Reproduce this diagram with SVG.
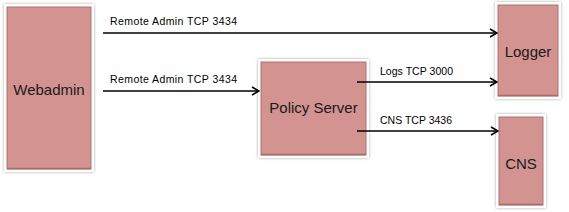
<svg xmlns="http://www.w3.org/2000/svg" width="569" height="212" viewBox="0 0 569 212">
<style>
.frame{fill:#ffffff;filter:url(#sh)}
.box{fill:#d39391;stroke:#b07070;stroke-width:1}
.edge{fill:none;stroke:#a86a6a;stroke-width:1.5}
.nt{font-family:"Liberation Sans",Arial,sans-serif;font-size:15px;fill:#1a1a1a;text-anchor:middle}
.lt{font-family:"Liberation Sans",Arial,sans-serif;font-size:10.5px;fill:#000000}
.ln{fill:none;stroke:#000000;stroke-width:1.6;marker-end:url(#ah)}
</style>
<defs>
<filter id="sh" x="-20%" y="-20%" width="140%" height="140%">
<feGaussianBlur in="SourceAlpha" stdDeviation="1.5"/>
<feOffset dx="0" dy="0" result="b"/>
<feComponentTransfer><feFuncA type="linear" slope="0.35"/></feComponentTransfer>
<feMerge><feMergeNode/><feMergeNode in="SourceGraphic"/></feMerge>
</filter>
<marker id="ah" viewBox="0 0 10 10" refX="9" refY="5" markerWidth="10" markerHeight="10" markerUnits="userSpaceOnUse" orient="auto">
<path d="M2,1 L9,5 L2,9" fill="none" stroke="#000000" stroke-width="1.6"/>
</marker>
</defs>
<rect width="569" height="212" fill="#ffffff"/>
<g id="webadmin">
<rect class="frame" x="4" y="4" width="90" height="168"/>
<rect class="box" x="7" y="7" width="84" height="162"/>
<path class="edge" d="M7,168.5 H91"/>
<text class="nt" x="49" y="95">Webadmin</text>
</g>
<g id="policy-server">
<rect class="frame" x="258" y="59" width="111" height="99"/>
<rect class="box" x="261" y="62" width="105" height="93"/>
<path class="edge" d="M261,154.5 H366"/>
<text class="nt" x="313.5" y="113">Policy Server</text>
</g>
<g id="logger">
<rect class="frame" x="495" y="2" width="66" height="97"/>
<rect class="box" x="498" y="5" width="60" height="91"/>
<path class="edge" d="M498,95.5 H558"/>
<text class="nt" x="528" y="57">Logger</text>
</g>
<g id="cns">
<rect class="frame" x="496" y="114" width="50" height="94"/>
<rect class="box" x="499" y="117" width="44" height="88"/>
<path class="edge" d="M499,204.5 H543"/>
<text class="nt" x="521" y="169">CNS</text>
</g>
<g id="connectors">
<path class="ln" d="M103,33 H497"/>
<text class="lt" x="110" y="25" textLength="127">Remote Admin TCP 3434</text>
<path class="ln" d="M103,91 H259"/>
<text class="lt" x="110" y="83" textLength="127">Remote Admin TCP 3434</text>
<path class="ln" d="M357,82 H497"/>
<text class="lt" x="380" y="75" textLength="73">Logs TCP 3000</text>
<path class="ln" d="M357,131 H498"/>
<text class="lt" x="380" y="124" textLength="72">CNS TCP 3436</text>
</g>
</svg>
